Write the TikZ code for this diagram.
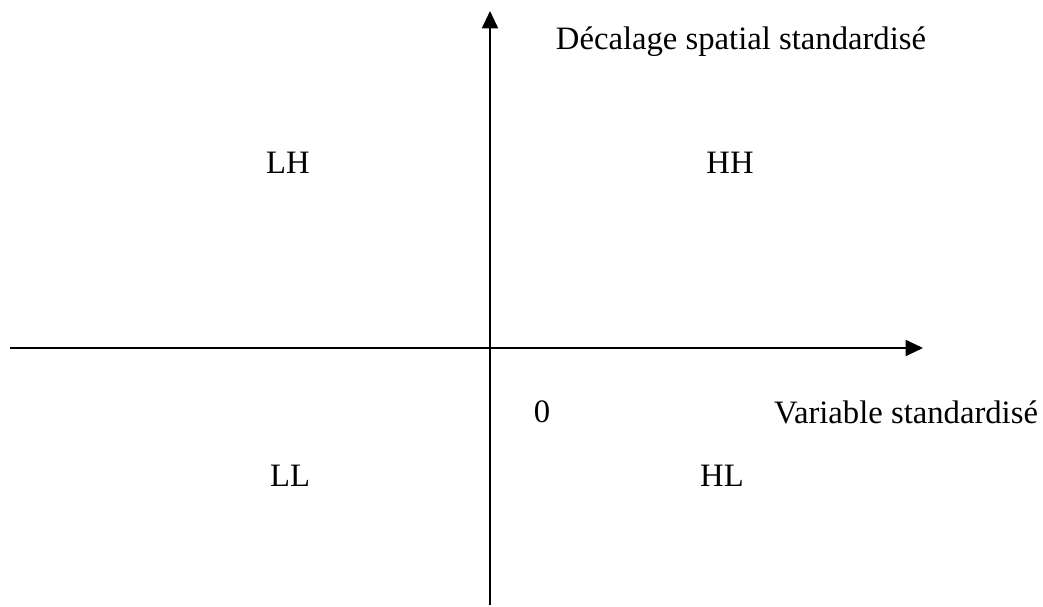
\documentclass[tikz,border=0pt]{standalone}
\usepackage{fontspec}
\setmainfont{Liberation Serif}
\usetikzlibrary{arrows.meta}

\begin{document}
\begin{tikzpicture}[
  x=0.75pt, y=-0.75pt,
  >={Triangle[length=13pt,width=12pt]},
  axis/.style={line width=1.4pt},
  quad/.style={font=\fontsize{24.5}{29}\selectfont, inner sep=0pt},
]
  \useasboundingbox (0,0) rectangle (1043,607);

  \coordinate (yS) at (490,605);
  \coordinate (yN) at (490,11);
  \coordinate (xW) at (10,348);
  \coordinate (xE) at (923,348);

  \draw[axis,->] (yS) -- (yN);
  \draw[axis,->] (xW) -- (xE);

  \node[quad] (lblY) at (741,42) {Décalage spatial standardisé};
  \node[quad] (lblX) at (906,412) {Variable standardisé};
  \node[quad] (zero) at (542,412) {0};

  \node[quad] (qLH) at (288,163) {LH};
  \node[quad] (qHH) at (730,163) {HH};
  \node[quad] (qLL) at (290,476) {LL};
  \node[quad] (qHL) at (722,476) {HL};
\end{tikzpicture}
\end{document}
